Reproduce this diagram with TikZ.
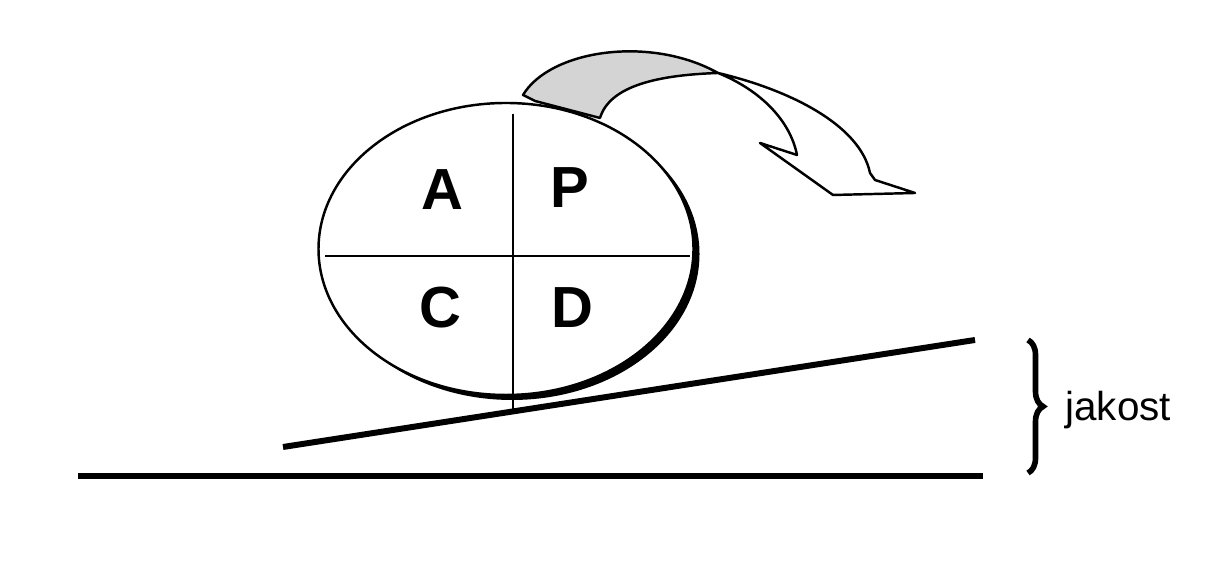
\documentclass[tikz,border=0pt]{standalone}
\usepackage{fontspec}
\setmainfont{Liberation Sans}
\usepackage{tikz}
\usetikzlibrary{positioning, decorations.pathreplacing}
\definecolor{ribbongray}{HTML}{D4D4D4}

\tikzset{
  letter/.style={font=\fontsize{16.5}{19}\selectfont\bfseries, inner sep=0pt},
  ground/.style={line width=1.5pt},
  ribbon/.style={line width=0.7pt, line join=round}
}

\begin{document}
\begin{tikzpicture}[scale=1.0]
\useasboundingbox (0, 0) rectangle (12.13, 5.67);
% ground and slope
\coordinate (g1) at (0.78, 0.91);
\coordinate (g2) at (9.83, 0.91);
\coordinate (s1) at (2.83, 1.20);
\coordinate (s2) at (9.75, 2.27);
\draw[ground] (g1) -- (g2);
\draw[ground, line width=1.7pt] (s1) -- (s2);
% wheel with shadow
\fill[black] (5.12, 3.13) ellipse [x radius=1.875, y radius=1.46];
\draw[line width=0.7pt, fill=white] (5.06, 3.18) ellipse [x radius=1.875, y radius=1.46];
\draw[line width=0.6pt] (5.13, 4.53) -- (5.13, 1.54);
\draw[line width=0.6pt] (3.25, 3.11) -- (6.90, 3.11);
\node[letter] (act)   at (4.42, 3.77) {A};
\node[letter] (plan)  at (5.70, 3.79) {P};
\node[letter] (check) at (4.40, 2.59) {C};
\node[letter] (do)    at (5.72, 2.59) {D};
% curved arrow
\filldraw[ribbon, fill=ribbongray] (5.23, 4.72)
  .. controls (5.50, 5.17) and (6.50, 5.32) .. (7.18, 4.94)
  .. controls (6.60, 4.92) and (6.10, 4.82) .. (6.00, 4.49)
  -- (5.35, 4.66) -- cycle;
\filldraw[ribbon, fill=white] (7.18, 4.94)
  .. controls (7.90, 4.77) and (8.60, 4.42) .. (8.70, 3.94)
  -- (8.75, 3.87) -- (9.15, 3.74) -- (8.33, 3.72) -- (7.60, 4.24) -- (7.97, 4.12)
  .. controls (7.90, 4.47) and (7.60, 4.77) .. (7.18, 4.94);
% quality brace
\coordinate (btop) at (10.28, 2.27);
\coordinate (bbot) at (10.28, 0.94);
\draw[line width=1.6pt, decorate, decoration={brace, amplitude=0.15cm}] (btop) -- (bbot);
\node[anchor=west, font=\fontsize{11.5}{14}\selectfont] (quality) at (10.53, 1.57) {jakost};
\end{tikzpicture}
\end{document}
